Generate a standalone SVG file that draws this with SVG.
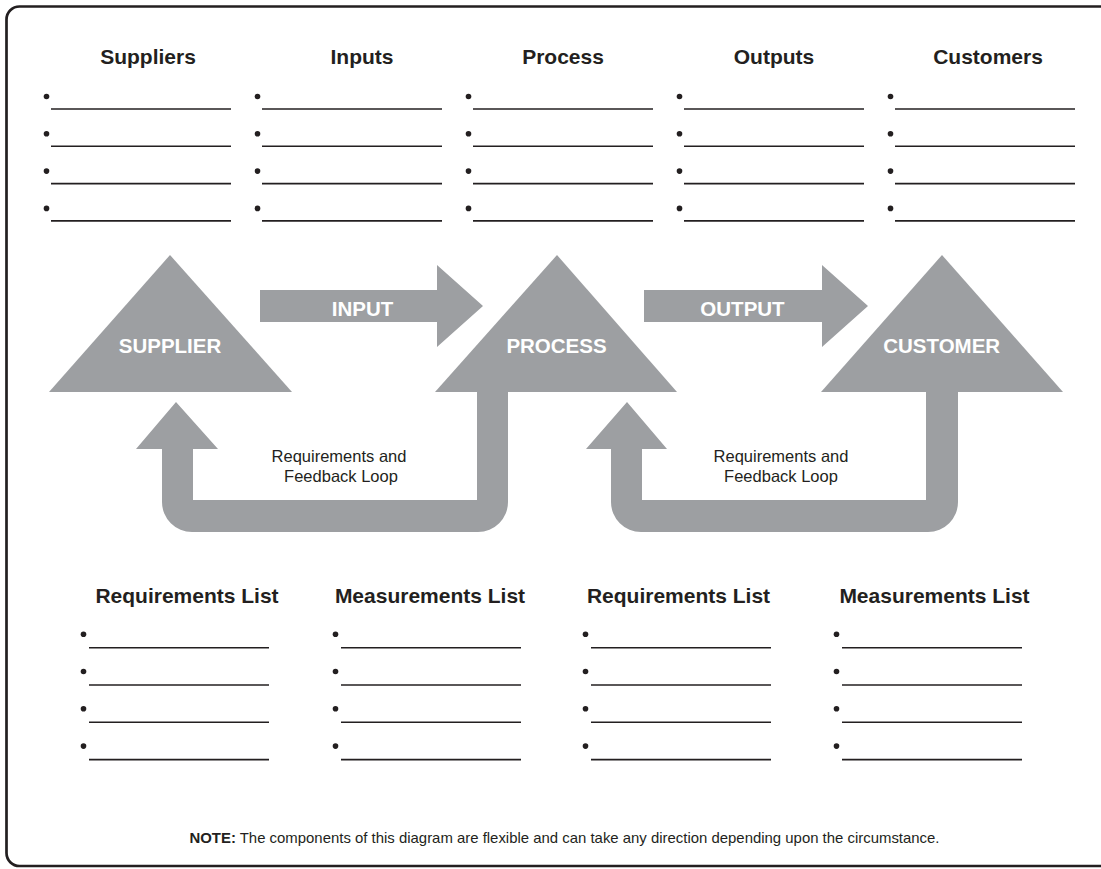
<svg xmlns="http://www.w3.org/2000/svg" width="1101" height="869" viewBox="0 0 1101 869">
<style>
.frame{fill:none;stroke:#231f20;stroke-width:2.7}
.shape{fill:#9d9fa2}
.hdr{font-family:"Liberation Sans",Arial,sans-serif;font-weight:bold;font-size:21px;fill:#231f20;text-anchor:middle}
.lbl{font-family:"Liberation Sans",Arial,sans-serif;font-weight:bold;font-size:20.5px;fill:#ffffff;text-anchor:middle}
.fb{font-family:"Liberation Sans",Arial,sans-serif;font-size:16.5px;fill:#231f20;text-anchor:middle}
.note{font-family:"Liberation Sans",Arial,sans-serif;font-size:15px;fill:#231f20;text-anchor:middle}
.ln{stroke:#231f20;stroke-width:1.6}
.dot{fill:#231f20}
</style>
<defs>
<g id="blankTop">
<circle class="dot" cx="-4.5" cy="-12.5" r="2.8"/><line class="ln" x1="0" y1="0" x2="180" y2="0"/>
<circle class="dot" cx="-4.5" cy="24.8" r="2.8"/><line class="ln" x1="0" y1="37.3" x2="180" y2="37.3"/>
<circle class="dot" cx="-4.5" cy="62.1" r="2.8"/><line class="ln" x1="0" y1="74.6" x2="180" y2="74.6"/>
<circle class="dot" cx="-4.5" cy="99.4" r="2.8"/><line class="ln" x1="0" y1="111.9" x2="180" y2="111.9"/>
</g>
<g id="blankBot">
<circle class="dot" cx="-5.5" cy="-13.5" r="2.8"/><line class="ln" x1="0" y1="0" x2="180" y2="0"/>
<circle class="dot" cx="-5.5" cy="23.8" r="2.8"/><line class="ln" x1="0" y1="37.3" x2="180" y2="37.3"/>
<circle class="dot" cx="-5.5" cy="61.1" r="2.8"/><line class="ln" x1="0" y1="74.6" x2="180" y2="74.6"/>
<circle class="dot" cx="-5.5" cy="98.4" r="2.8"/><line class="ln" x1="0" y1="111.9" x2="180" y2="111.9"/>
</g>
</defs>
<path class="frame" d="M1104,6.5 H19.5 A13 13 0 0 0 6.5,19.5 V853 A13 13 0 0 0 19.5,866 H1104"/>

<g id="list-suppliers"><text class="hdr" x="148" y="64">Suppliers</text><use href="#blankTop" x="51" y="109"/></g>
<g id="list-inputs"><text class="hdr" x="362" y="64">Inputs</text><use href="#blankTop" x="262" y="109"/></g>
<g id="list-process"><text class="hdr" x="563" y="64">Process</text><use href="#blankTop" x="473" y="109"/></g>
<g id="list-outputs"><text class="hdr" x="774" y="64">Outputs</text><use href="#blankTop" x="684" y="109"/></g>
<g id="list-customers"><text class="hdr" x="988" y="64">Customers</text><use href="#blankTop" x="895" y="109"/></g>

<g id="connectors">
<g id="input-arrow"><path class="shape" d="M260,290 H437 V265 L483,306 L437,347 V322 H260 Z"/><text class="lbl" x="362.5" y="316">INPUT</text></g>
<g id="output-arrow"><path class="shape" d="M644,290 H822 V265 L868,306 L822,347 V322 H644 Z"/><text class="lbl" x="742.5" y="316">OUTPUT</text></g>
<g id="feedback-1"><path class="shape" d="M176,402 L218,449 L193,449 L193,500 L477,500 L477,390 L508,390 L508,502 A30 30 0 0 1 478,532 L192,532 A30 30 0 0 1 162,502 L162,449 L136,449 Z"/>
<text class="fb" x="339" y="462">Requirements and</text><text class="fb" x="341" y="482">Feedback Loop</text></g>
<g id="feedback-2"><path class="shape" d="M627,402 L667,449 L642,449 L642,500 L926,500 L926,390 L958,390 L958,502 A30 30 0 0 1 928,532 L641,532 A30 30 0 0 1 611,502 L611,449 L586,449 Z"/>
<text class="fb" x="781" y="462">Requirements and</text><text class="fb" x="781" y="482">Feedback Loop</text></g>
</g>

<g id="supplier"><path class="shape" d="M170,255 L292,392 L49,392 Z"/><text class="lbl" x="170" y="353">SUPPLIER</text></g>
<g id="process"><path class="shape" d="M557,255 L677,392 L435,392 Z"/><text class="lbl" x="556.5" y="353">PROCESS</text></g>
<g id="customer"><path class="shape" d="M942,255 L1063,392 L821,392 Z"/><text class="lbl" x="941.7" y="353">CUSTOMER</text></g>

<g id="req-list-1"><text class="hdr" x="187" y="603">Requirements List</text><use href="#blankBot" x="89" y="647.7"/></g>
<g id="meas-list-1"><text class="hdr" x="430" y="603">Measurements List</text><use href="#blankBot" x="341" y="647.7"/></g>
<g id="req-list-2"><text class="hdr" x="678.5" y="603">Requirements List</text><use href="#blankBot" x="591" y="647.7"/></g>
<g id="meas-list-2"><text class="hdr" x="934.5" y="603">Measurements List</text><use href="#blankBot" x="842" y="647.7"/></g>

<g id="note"><text class="note" x="564.5" y="843" textLength="750" lengthAdjust="spacingAndGlyphs"><tspan font-weight="bold">NOTE:</tspan> The components of this diagram are flexible and can take any direction depending upon the circumstance.</text></g>
</svg>
